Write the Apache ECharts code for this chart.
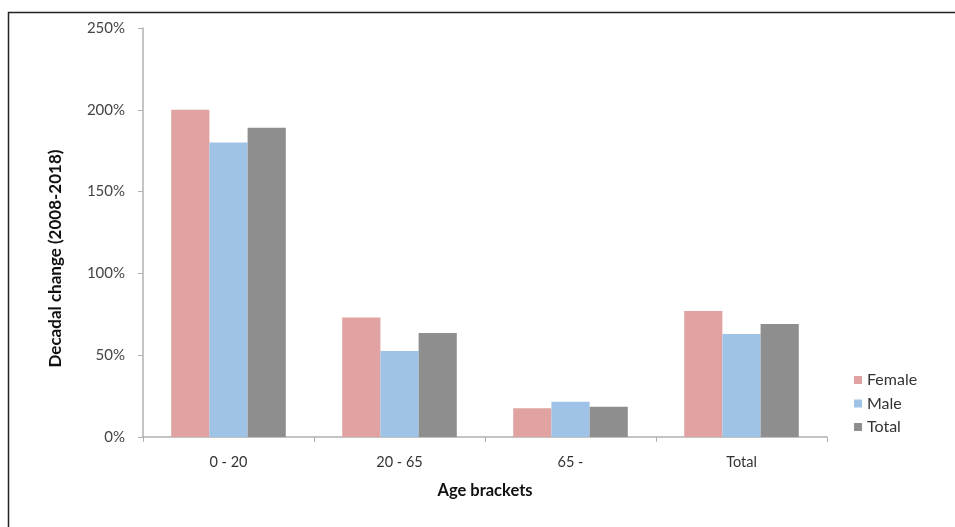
<!DOCTYPE html>
<html><head><meta charset="utf-8">
<script src="https://cdn.jsdelivr.net/npm/echarts@6/dist/echarts.min.js"></script>
<style>html,body{margin:0;padding:0;background:#fff}#c{width:955px;height:527px}</style>
</head><body><div id="c"></div>
<script>
const categories = ['0 - 20', '20 - 65', '65 -', 'Total'];
const female = [200, 73, 17.5, 77];
const male = [180, 52.5, 21.5, 63];
const total = [189, 63.5, 18.5, 69];
const yTicks = [0, 50, 100, 150, 200, 250];

const font = 'Lato, "Open Sans", sans-serif';
const chart = echarts.init(document.getElementById('c'));
chart.setOption({
  animation: false,
  backgroundColor: '#fff',
  textStyle: { fontFamily: font },
  graphic: [{
    type: 'rect', shape: { x: 8.5, y: 12.5, width: 980, height: 560 },
    style: { fill: 'none', stroke: '#222', lineWidth: 1.5 }, silent: true, z: -1
  }],
  grid: { left: 143, right: 128, top: 28, bottom: 90 },
  legend: {
    orient: 'vertical', left: 849, top: 367,
    itemWidth: 8, itemHeight: 8, itemGap: 7.5,
    icon: 'rect',
    textStyle: { fontSize: 16, color: '#333', fontFamily: font },
    data: ['Female', 'Male', 'Total']
  },
  xAxis: {
    type: 'category', data: categories,
    name: 'Age brackets', nameLocation: 'middle', nameGap: 45,
    nameTextStyle: { fontWeight: 'bold', fontSize: 16.5, color: '#111', fontFamily: font },
    axisLine: { lineStyle: { color: '#b0b0b0', width: 1.5 } },
    axisTick: { show: true, length: 5, lineStyle: { color: '#b0b0b0' } },
    axisLabel: { fontSize: 14.5, color: '#333', margin: 17.5, fontFamily: font }
  },
  yAxis: {
    type: 'value', min: 0, max: 250, interval: 50,
    name: 'Decadal change (2008-2018)', nameLocation: 'middle', nameGap: 79,
    nameTextStyle: { fontWeight: 'bold', fontSize: 17, color: '#111', fontFamily: font,
      padding: [0, 52, 0, 0] },
    axisLine: { show: true, lineStyle: { color: '#b0b0b0', width: 1.5 } },
    axisTick: { show: true, length: 5, lineStyle: { color: '#b0b0b0' } },
    splitLine: { show: false },
    axisLabel: { fontSize: 15, color: '#444', margin: 18, fontFamily: font,
      formatter: v => yTicks.includes(v) ? v + '%' : '' }
  },
  series: [
    { name: 'Female', type: 'bar', data: female, barGap: '0%', barCategoryGap: '33%', itemStyle: { color: '#E0A3A2' } },
    { name: 'Male', type: 'bar', data: male, itemStyle: { color: '#9FC3E7' } },
    { name: 'Total', type: 'bar', data: total, itemStyle: { color: '#8E8E8E' } }
  ]
});
</script></body></html>
